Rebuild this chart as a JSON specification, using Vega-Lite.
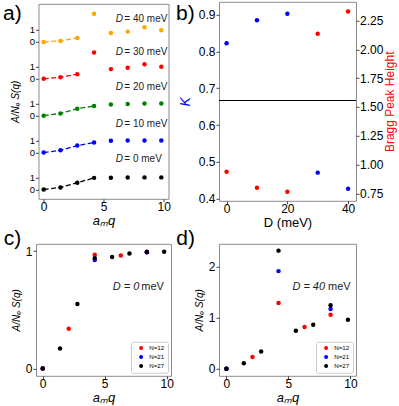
{
  "$schema": "https://vega.github.io/schema/vega-lite/v6.json",
  "padding": {"left": 2, "top": 0.8, "right": 0, "bottom": 0},
  "columns": 2,
  "bounds": "flush",
  "spacing": {"row": 43, "column": 48},
  "center": {"row": true, "column": true},
  "resolve": {"scale": {"color": "independent"}, "legend": {"color": "independent"}},
  "config": {
    "font": "Liberation Sans",
    "view": {"stroke": "#8c8c8c", "strokeWidth": 1},
    "axis": {"grid": false, "domain": false, "tickColor": "#444", "tickSize": 3, "labelFontSize": 12, "labelColor": "#000", "labelFont": "Liberation Sans", "titleFont": "Liberation Sans", "titleFontSize": 13, "titleFontWeight": "normal", "titleColor": "#000", "labelOverlap": false},
    "axisX": {"labelPadding": 0, "titlePadding": 2},
    "axisY": {"labelPadding": 1},
    "title": {"font": "Liberation Sans", "fontWeight": "normal", "color": "#000"}
  },
  "datasets": {
    "a": [
      {"q": 0, "D": 0, "S": 0}, {"q": 1.4, "D": 0, "S": 0.17}, {"q": 2.8, "D": 0, "S": 0.56}, {"q": 4.2, "D": 0, "S": 0.96},
      {"q": 5.6, "D": 0, "S": 0.97}, {"q": 7.0, "D": 0, "S": 0.99}, {"q": 8.4, "D": 0, "S": 1.0}, {"q": 9.8, "D": 0, "S": 1.0},
      {"q": 0, "D": 10, "S": 3.05}, {"q": 1.4, "D": 10, "S": 3.24}, {"q": 2.8, "D": 10, "S": 3.63}, {"q": 4.2, "D": 10, "S": 3.88},
      {"q": 5.6, "D": 10, "S": 4.02}, {"q": 7.0, "D": 10, "S": 4.05}, {"q": 8.4, "D": 10, "S": 4.05}, {"q": 9.8, "D": 10, "S": 4.05},
      {"q": 0, "D": 20, "S": 6.1}, {"q": 1.4, "D": 20, "S": 6.29}, {"q": 2.8, "D": 20, "S": 6.68}, {"q": 4.2, "D": 20, "S": 6.9},
      {"q": 5.6, "D": 20, "S": 7.03}, {"q": 7.0, "D": 20, "S": 7.07}, {"q": 8.4, "D": 20, "S": 7.1}, {"q": 9.8, "D": 20, "S": 7.1},
      {"q": 0, "D": 30, "S": 9.15}, {"q": 1.4, "D": 30, "S": 9.28}, {"q": 2.8, "D": 30, "S": 9.53}, {"q": 4.2, "D": 30, "S": 11.33},
      {"q": 5.6, "D": 30, "S": 9.95}, {"q": 7.0, "D": 30, "S": 10.06}, {"q": 8.4, "D": 30, "S": 10.36}, {"q": 9.8, "D": 30, "S": 10.14},
      {"q": 0, "D": 40, "S": 12.2}, {"q": 1.4, "D": 40, "S": 12.28}, {"q": 2.8, "D": 40, "S": 12.53}, {"q": 4.2, "D": 40, "S": 14.52},
      {"q": 5.6, "D": 40, "S": 12.94}, {"q": 7.0, "D": 40, "S": 13.05}, {"q": 8.4, "D": 40, "S": 13.42}, {"q": 9.8, "D": 40, "S": 13.16}
    ],
    "aLab": [
      {"xD": 6.0, "xT": 6.72, "y": 14.11, "txt": "= 40 meV"},
      {"xD": 6.0, "xT": 6.72, "y": 11.36, "txt": "= 30 meV"},
      {"xD": 6.0, "xT": 6.72, "y": 8.46, "txt": "= 20 meV"},
      {"xD": 6.0, "xT": 6.72, "y": 5.43, "txt": "= 10 meV"},
      {"xD": 6.0, "xT": 6.72, "y": 2.54, "txt": "= 0 meV"}
    ],
    "b": [
      {"D": 0, "K": 0.822, "Bragg": 0.938},
      {"D": 10, "K": 0.884, "Bragg": 0.799},
      {"D": 20, "K": 0.902, "Bragg": 0.765},
      {"D": 30, "K": 0.471, "Bragg": 2.135},
      {"D": 40, "K": 0.427, "Bragg": 2.328}
    ],
    "c": [
      {"q": 0, "S": 0, "N": "N=12"}, {"q": 2.1, "S": 0.338, "N": "N=12"}, {"q": 4.2, "S": 0.969, "N": "N=12"}, {"q": 6.3, "S": 0.963, "N": "N=12"}, {"q": 8.4, "S": 0.99, "N": "N=12"},
      {"q": 0, "S": 0, "N": "N=21"}, {"q": 4.2, "S": 0.923, "N": "N=21"}, {"q": 8.4, "S": 0.99, "N": "N=21"},
      {"q": 0, "S": 0, "N": "N=27"}, {"q": 1.4, "S": 0.17, "N": "N=27"}, {"q": 2.8, "S": 0.548, "N": "N=27"}, {"q": 4.2, "S": 0.94, "N": "N=27"},
      {"q": 5.6, "S": 0.95, "N": "N=27"}, {"q": 7.0, "S": 0.98, "N": "N=27"}, {"q": 8.4, "S": 0.994, "N": "N=27"}, {"q": 9.8, "S": 0.994, "N": "N=27"}
    ],
    "d": [
      {"q": 0, "S": 0, "N": "N=12"}, {"q": 2.1, "S": 0.23, "N": "N=12"}, {"q": 4.2, "S": 1.29, "N": "N=12"}, {"q": 6.3, "S": 0.816, "N": "N=12"}, {"q": 8.4, "S": 1.06, "N": "N=12"},
      {"q": 0, "S": 0, "N": "N=21"}, {"q": 4.2, "S": 1.914, "N": "N=21"}, {"q": 8.4, "S": 1.171, "N": "N=21"},
      {"q": 0, "S": 0, "N": "N=27"}, {"q": 1.4, "S": 0.105, "N": "N=27"}, {"q": 2.8, "S": 0.336, "N": "N=27"}, {"q": 4.2, "S": 2.316, "N": "N=27"},
      {"q": 5.6, "S": 0.743, "N": "N=27"}, {"q": 7.0, "S": 0.862, "N": "N=27"}, {"q": 8.4, "S": 1.243, "N": "N=27"}, {"q": 9.8, "S": 0.96, "N": "N=27"}
    ]
  },
  "concat": [
    {
      "width": 130, "height": 195,
      "title": {"text": "a)", "anchor": "start", "frame": "group", "dx": -35.5, "offset": -37.7, "baseline": "alphabetic", "fontSize": 21},
      "encoding": {
        "x": {"type": "quantitative", "title": "aₘq", "scale": {"domain": [-0.43, 10.4], "nice": false, "zero": false}, "axis": {"values": [0, 5, 10], "titleFontStyle": "italic", "labelOverlap": false}},
        "y": {"type": "quantitative", "title": "A/Nₑ S(q)", "scale": {"domain": [-0.77, 15.35], "nice": false, "zero": false}, "axis": {"values": [0, 1, 3.05, 4.05, 6.1, 7.1, 9.15, 10.15, 12.2, 13.2], "labelExpr": "indexof([0, 3.05, 6.1, 9.15, 12.2], datum.value) >= 0 ? '0' : '1'", "labelFontSize": 9.5, "labelOverlap": false, "labelBound": false, "titleFontStyle": "italic", "titleFontSize": 10, "titlePadding": 9}}
      },
      "layer": [
        {
          "data": {"name": "a"},
          "transform": [{"filter": "datum.q <= (datum.D >= 30 ? 2.8 : 4.2)"}],
          "mark": {"type": "line", "strokeDash": [5, 2.5], "strokeWidth": 1.3},
          "encoding": {
            "x": {"field": "q"},
            "y": {"field": "S"},
            "color": {"field": "D", "type": "nominal", "scale": {"domain": [0, 10, 20, 30, 40], "range": ["#000000", "#0000ff", "#008000", "#ff0000", "#ffa500"]}, "legend": null}
          }
        },
        {
          "data": {"name": "a"},
          "mark": {"type": "circle", "size": 20, "opacity": 1},
          "encoding": {
            "x": {"field": "q"},
            "y": {"field": "S"},
            "color": {"field": "D", "type": "nominal", "legend": null}
          }
        },
        {
          "data": {"name": "aLab"},
          "mark": {"type": "text", "align": "left", "baseline": "middle", "fontSize": 10, "fontStyle": "italic", "color": "#222"},
          "encoding": {
            "x": {"field": "xD"},
            "y": {"field": "y"},
            "text": {"value": "D"}
          }
        },
        {
          "data": {"name": "aLab"},
          "mark": {"type": "text", "align": "left", "baseline": "middle", "fontSize": 10, "color": "#222"},
          "encoding": {
            "x": {"field": "xT"},
            "y": {"field": "y"},
            "text": {"field": "txt"}
          }
        }
      ]
    },
    {
      "width": 137, "height": 199,
      "title": {"text": "b)", "anchor": "start", "frame": "group", "dx": -43, "offset": -39.7, "baseline": "alphabetic", "fontSize": 21},
      "layer": [
        {
          "layer": [
            {
              "data": {"values": [{}]},
              "mark": {"type": "rule", "color": "#000", "strokeWidth": 1.1},
              "encoding": {
                "y": {"datum": 0.6667, "type": "quantitative", "title": "K", "scale": {"domain": [0.3946, 0.9343], "nice": false, "zero": false}, "axis": {"values": [0.4, 0.5, 0.6, 0.7, 0.8, 0.9], "format": ".1f", "labelOverlap": false, "titleColor": "#0000ff", "titleFontStyle": "italic", "titleFontSize": 14, "titlePadding": 6}}
              }
            },
            {
              "data": {"name": "b"},
              "mark": {"type": "circle", "size": 20, "opacity": 1, "color": "#0000ff"},
              "encoding": {
                "x": {"field": "D", "type": "quantitative", "title": "D (meV)", "scale": {"domain": [-2.5, 42.6], "nice": false, "zero": false}, "axis": {"values": [0, 10, 20, 30, 40], "labelOverlap": false}},
                "y": {"field": "K", "type": "quantitative", "title": "K", "scale": {"domain": [0.3946, 0.9343], "nice": false, "zero": false}, "axis": {"values": [0.4, 0.5, 0.6, 0.7, 0.8, 0.9], "format": ".1f", "labelOverlap": false, "titleColor": "#0000ff", "titleFontStyle": "italic", "titleFontSize": 14, "titlePadding": 6}}
              }
            }
          ]
        },
        {
          "data": {"name": "b"},
          "mark": {"type": "circle", "size": 20, "opacity": 1, "color": "#ff0000"},
          "encoding": {
            "x": {"field": "D", "type": "quantitative", "title": "D (meV)"},
            "y": {"field": "Bragg", "type": "quantitative", "title": "Bragg Peak Height", "scale": {"domain": [0.686, 2.412], "nice": false, "zero": false}, "axis": {"orient": "right", "values": [0.75, 1, 1.25, 1.5, 1.75, 2, 2.25], "format": ".2f", "labelOverlap": false, "labelPadding": 0.5, "titleColor": "#ff0000", "titleFontSize": 12, "titleAngle": 270, "titleBaseline": "top", "titlePadding": 2}}
          }
        }
      ],
      "resolve": {"scale": {"y": "independent"}}
    },
    {
      "width": 135, "height": 132,
      "title": {"text": "c)", "anchor": "start", "frame": "group", "dx": -32.3, "offset": -22, "baseline": "alphabetic", "fontSize": 21},
      "layer": [
        {
          "data": {"name": "c"},
          "mark": {"type": "circle", "size": 20, "opacity": 1},
          "encoding": {
            "x": {"field": "q", "type": "quantitative", "title": "aₘq", "scale": {"domain": [-0.54, 10.35], "nice": false, "zero": false}, "axis": {"values": [0, 5, 10], "titleFontStyle": "italic", "labelOverlap": false}},
            "y": {"field": "S", "type": "quantitative", "title": "A/Nₑ S(q)", "scale": {"domain": [-0.063, 1.062], "nice": false, "zero": false}, "axis": {"values": [0, 1], "format": "d", "labelOverlap": false, "titleFontStyle": "italic", "titleFontSize": 10, "titlePadding": 4}},
            "color": {"field": "N", "type": "nominal", "scale": {"domain": ["N=12", "N=21", "N=27"], "range": ["#ff0000", "#0000ff", "#000000"]},
              "legend": {"orient": "bottom-right", "title": null, "offset": 3, "padding": 3, "labelFontSize": 6.2, "symbolSize": 16, "rowPadding": 2, "strokeColor": "#cccccc", "fillColor": "#ffffff", "cornerRadius": 2, "symbolType": "circle", "labelOffset": 5, "symbolOffset": 4, "symbolStrokeWidth": 0}}
          }
        },
        {
          "data": {"values": [{}]},
          "mark": {"type": "text", "align": "left", "baseline": "middle", "fontSize": 11, "fontStyle": "italic", "color": "#222"},
          "encoding": {"x": {"datum": 5.65, "type": "quantitative"}, "y": {"datum": 0.693, "type": "quantitative"}, "text": {"value": "D = 0"}}
        },
        {
          "data": {"values": [{}]},
          "mark": {"type": "text", "align": "left", "baseline": "middle", "fontSize": 11, "color": "#222"},
          "encoding": {"x": {"datum": 7.95, "type": "quantitative"}, "y": {"datum": 0.693, "type": "quantitative"}, "text": {"value": "meV"}}
        }
      ]
    },
    {
      "width": 137, "height": 132,
      "title": {"text": "d)", "anchor": "start", "frame": "group", "dx": -42.7, "offset": -22, "baseline": "alphabetic", "fontSize": 21},
      "layer": [
        {
          "data": {"name": "d"},
          "mark": {"type": "circle", "size": 20, "opacity": 1},
          "encoding": {
            "x": {"field": "q", "type": "quantitative", "title": "aₘq", "scale": {"domain": [-0.6, 10.45], "nice": false, "zero": false}, "axis": {"values": [0, 5, 10], "titleFontStyle": "italic", "labelOverlap": false}},
            "y": {"field": "S", "type": "quantitative", "title": "A/Nₑ S(q)", "scale": {"domain": [-0.14, 2.45], "nice": false, "zero": false}, "axis": {"values": [0, 1, 2], "format": "d", "labelOverlap": false, "titleFontStyle": "italic", "titleFontSize": 10, "titlePadding": 4}},
            "color": {"field": "N", "type": "nominal", "scale": {"domain": ["N=12", "N=21", "N=27"], "range": ["#ff0000", "#0000ff", "#000000"]},
              "legend": {"orient": "bottom-right", "title": null, "offset": 3, "padding": 3, "labelFontSize": 6.2, "symbolSize": 16, "rowPadding": 2, "strokeColor": "#cccccc", "fillColor": "#ffffff", "cornerRadius": 2, "symbolType": "circle", "labelOffset": 5, "symbolOffset": 4, "symbolStrokeWidth": 0}}
          }
        },
        {
          "data": {"values": [{}]},
          "mark": {"type": "text", "align": "left", "baseline": "middle", "fontSize": 11, "fontStyle": "italic", "color": "#222"},
          "encoding": {"x": {"datum": 5.32, "type": "quantitative"}, "y": {"datum": 1.6, "type": "quantitative"}, "text": {"value": "D = 40"}}
        },
        {
          "data": {"values": [{}]},
          "mark": {"type": "text", "align": "left", "baseline": "middle", "fontSize": 11, "color": "#222"},
          "encoding": {"x": {"datum": 8.2, "type": "quantitative"}, "y": {"datum": 1.6, "type": "quantitative"}, "text": {"value": "meV"}}
        }
      ]
    }
  ]
}
